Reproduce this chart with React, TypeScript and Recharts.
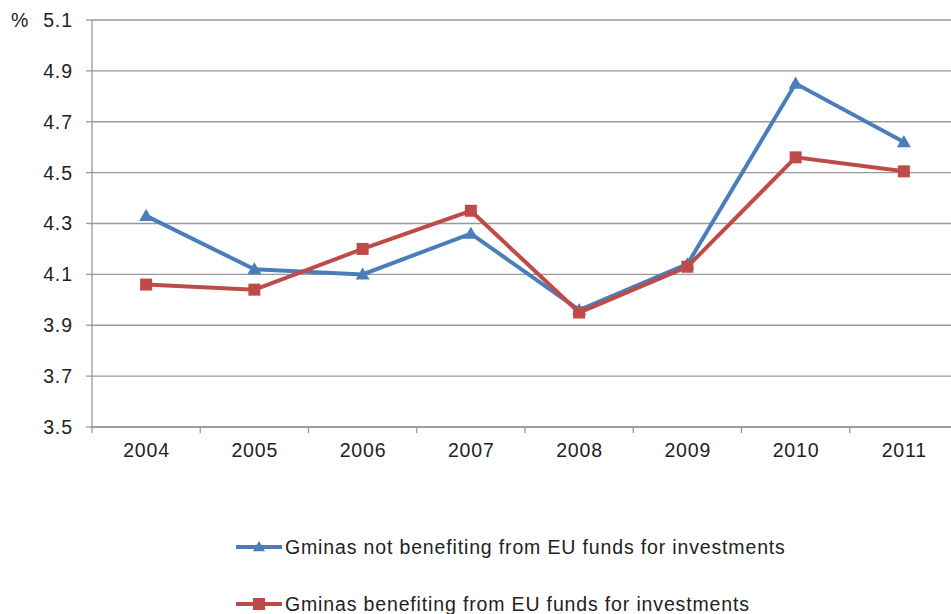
import React from "react";
import { LineChart, Line, XAxis, YAxis, CartesianGrid } from "recharts";

const years = ["2004", "2005", "2006", "2007", "2008", "2009", "2010", "2011"];
const notBenefiting = [4.33, 4.12, 4.1, 4.26, 3.96, 4.14, 4.85, 4.62];
const benefiting = [4.06, 4.04, 4.2, 4.35, 3.95, 4.13, 4.56, 4.505];
const yTicks = [3.5, 3.7, 3.9, 4.1, 4.3, 4.5, 4.7, 4.9, 5.1];
const seriesNames = [
  "Gminas not benefiting from EU funds for investments",
  "Gminas benefiting from EU funds for investments",
];

const BLUE = "#4a7ebb";
const RED = "#be4b48";
const GRID = "#999999";
const TEXT = "#222222";
const FONT = "'Liberation Sans', Arial, sans-serif";
const FS = 19.5;
const LS = 0.85;

const data = years.map((y, i) => ({ year: y, a: notBenefiting[i], b: benefiting[i] }));

const CHART_W = 960;
const CHART_H = 614;
const M = { top: 20, right: 2, bottom: 157, left: 0 };
const Y_W = 92;
const PLOT_W = CHART_W - M.right - M.left - Y_W;
const BAND = PLOT_W / years.length;

const Triangle = (props: any) => {
  const { cx, cy, fill, size = 7 } = props;
  if (cx == null || cy == null) return null;
  return (
    <path
      d={`M${cx},${cy - size} L${cx - size},${cy + size * 0.72} L${cx + size},${cy + size * 0.72} Z`}
      fill={fill}
    />
  );
};

const Square = (props: any) => {
  const { cx, cy, fill, size = 6 } = props;
  if (cx == null || cy == null) return null;
  return <rect x={cx - size} y={cy - size} width={size * 2} height={size * 2} fill={fill} />;
};

const XTick = (props: any) => {
  const { x, y, payload, index } = props;
  const axisY = y - 16;
  return (
    <g>
      <line x1={x - BAND / 2} x2={x - BAND / 2} y1={axisY} y2={axisY + 6} stroke={GRID} strokeWidth={1.3} />
      {index === years.length - 1 && (
        <line x1={x + BAND / 2} x2={x + BAND / 2} y1={axisY} y2={axisY + 6} stroke={GRID} strokeWidth={1.3} />
      )}
      <text
        x={x + LS / 2}
        y={y}
        dy="0.71em"
        textAnchor="middle"
        fill={TEXT}
        fontSize={FS}
        fontFamily={FONT}
        style={{ letterSpacing: LS }}
      >
        {payload.value}
      </text>
    </g>
  );
};

const YTick = (props: any) => {
  const { x, y, payload } = props;
  return (
    <text
      x={x + LS}
      y={y}
      dy="0.355em"
      textAnchor="end"
      fill={TEXT}
      fontSize={FS}
      fontFamily={FONT}
      style={{ letterSpacing: LS }}
    >
      {Number(payload.value).toFixed(1)}
    </text>
  );
};

const LegendItem = ({ color, name, marker }: { color: string; name: string; marker: "tri" | "sq" }) => (
  <div style={{ display: "flex", alignItems: "center", height: 24 }}>
    <svg width={49} height={20} style={{ display: "block" }}>
      <line x1={0} x2={46} y1={10} y2={10} stroke={color} strokeWidth={4} />
      {marker === "tri" ? <Triangle cx={23} cy={10} fill={color} size={6} /> : <Square cx={23} cy={10} fill={color} size={6} />}
    </svg>
    <span style={{ fontFamily: FONT, fontSize: FS, color: TEXT, whiteSpace: "nowrap", letterSpacing: LS }}>
      {name}
    </span>
  </div>
);

export default function App() {
  return (
    <div
      style={{
        position: "absolute",
        left: 0,
        top: 0,
        width: 951,
        height: 614,
        overflow: "hidden",
        background: "#fff",
      }}
    >
      <LineChart width={CHART_W} height={CHART_H} data={data} margin={M}>
        <CartesianGrid vertical={false} stroke={GRID} strokeWidth={1.3} />
        <XAxis
          dataKey="year"
          scale="band"
          tickLine={false}
          axisLine={{ stroke: GRID, strokeWidth: 1.3 }}
          tickSize={6}
          tickMargin={10}
          height={30}
          interval={0}
          tick={<XTick />}
        />
        <YAxis
          domain={[3.5, 5.1]}
          ticks={yTicks}
          width={Y_W}
          tickSize={6}
          tickMargin={14}
          tickLine={{ stroke: GRID, strokeWidth: 1.3 }}
          axisLine={{ stroke: GRID, strokeWidth: 1.3 }}
          tick={<YTick />}
          allowDataOverflow
        />
        <Line
          dataKey="a"
          name={seriesNames[0]}
          stroke={BLUE}
          strokeWidth={4}
          dot={<Triangle fill={BLUE} size={7} />}
          activeDot={false}
          isAnimationActive={false}
        />
        <Line
          dataKey="b"
          name={seriesNames[1]}
          stroke={RED}
          strokeWidth={4}
          dot={<Square fill={RED} size={6} />}
          activeDot={false}
          isAnimationActive={false}
        />
      </LineChart>
      <div
        style={{
          position: "absolute",
          left: 11,
          top: 9,
          fontFamily: FONT,
          fontSize: FS,
          color: TEXT,
        }}
      >
        %
      </div>
      <div style={{ position: "absolute", left: 236, top: 535 }}>
        <LegendItem color={BLUE} name={seriesNames[0]} marker="tri" />
        <div style={{ height: 33 }} />
        <LegendItem color={RED} name={seriesNames[1]} marker="sq" />
      </div>
    </div>
  );
}
